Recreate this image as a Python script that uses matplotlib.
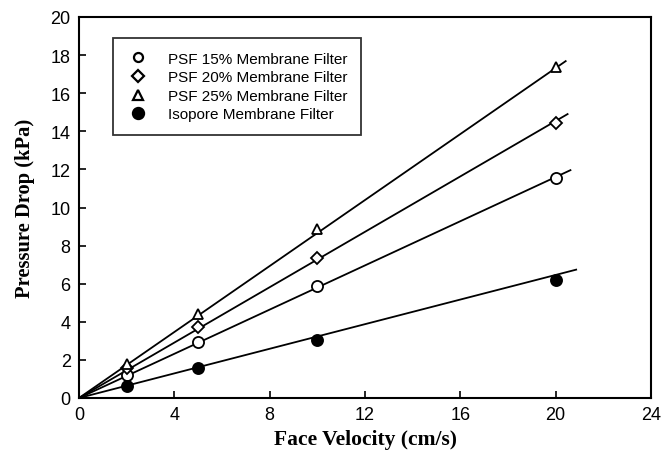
import numpy as np
import matplotlib
matplotlib.use("Agg")
import matplotlib.pyplot as plt

velocity = [2, 5, 10, 20]
psf15 = [1.20, 2.92, 5.90, 11.55]
psf20 = [1.55, 3.73, 7.35, 14.45]
psf25 = [1.78, 4.41, 8.85, 17.37]
isopore = [0.65, 1.56, 3.06, 6.21]
labels = ["PSF 15% Membrane Filter", "PSF 20% Membrane Filter",
          "PSF 25% Membrane Filter", "Isopore Membrane Filter"]
fit_slope = [0.580, 0.727, 0.866, 0.323]
fit_end = [20.62, 20.5, 20.42, 20.86]

fig = plt.figure(figsize=(6.63, 4.52), dpi=100)
ax = fig.add_axes([79/663, 1-399/452, (651-79)/663, (399-18)/452])

series = [psf15, psf20, psf25, isopore]
markers = ['o', 'D', '^', 'o']
sizes = [8, 6.5, 7.5, 8]
faces = ['white', 'white', 'white', 'black']
leg_sizes = [6.5, 6, 6.5, 8]
x = np.array(velocity, float)
for ys, m, s, fc, lab, k, xe in zip(series, markers, sizes, faces, labels, fit_slope, fit_end):
    y = np.array(ys, float)
    xl = np.array([0, xe])
    ax.plot(xl, k*xl, color='black', lw=1.3, zorder=2)
    ax.plot(x, y, linestyle='none', marker=m, markersize=s,
            markerfacecolor=fc, markeredgecolor='black', markeredgewidth=1.3,
            label=lab, zorder=3)

ax.set_xlim(0, 24)
ax.set_ylim(0, 20)
ax.set_xticks(np.arange(0, 25, 4))
ax.set_yticks(np.arange(0, 21, 2))
ax.tick_params(direction='in', length=5, width=1.2, labelsize=13, pad=6)
for lab in ax.get_xticklabels() + ax.get_yticklabels():
    lab.set_fontfamily('Liberation Sans')
for sp in ax.spines.values():
    sp.set_linewidth(1.5)
ax.set_xlabel("Face Velocity (cm/s)", fontfamily='Liberation Serif',
              fontweight='bold', fontsize=15.5, labelpad=4)
ax.set_ylabel("Pressure Drop (kPa)", fontfamily='Liberation Serif',
              fontweight='bold', fontsize=14.8, labelpad=11)

leg = ax.legend(loc='upper left', bbox_to_anchor=((113-79)/572, (399-39)/381),
                prop={'family': 'Liberation Sans', 'size': 11},
                frameon=True, fancybox=False, edgecolor='black',
                borderpad=0.9, labelspacing=0.3, handletextpad=1.2,
                handlelength=1.5, borderaxespad=0)
leg.get_frame().set_linewidth(1.3)
for h, s in zip(leg.legend_handles, leg_sizes):
    h.set_markersize(s)
    h.set_markeredgewidth(1.6)

fig.savefig("out.png", dpi=100)
